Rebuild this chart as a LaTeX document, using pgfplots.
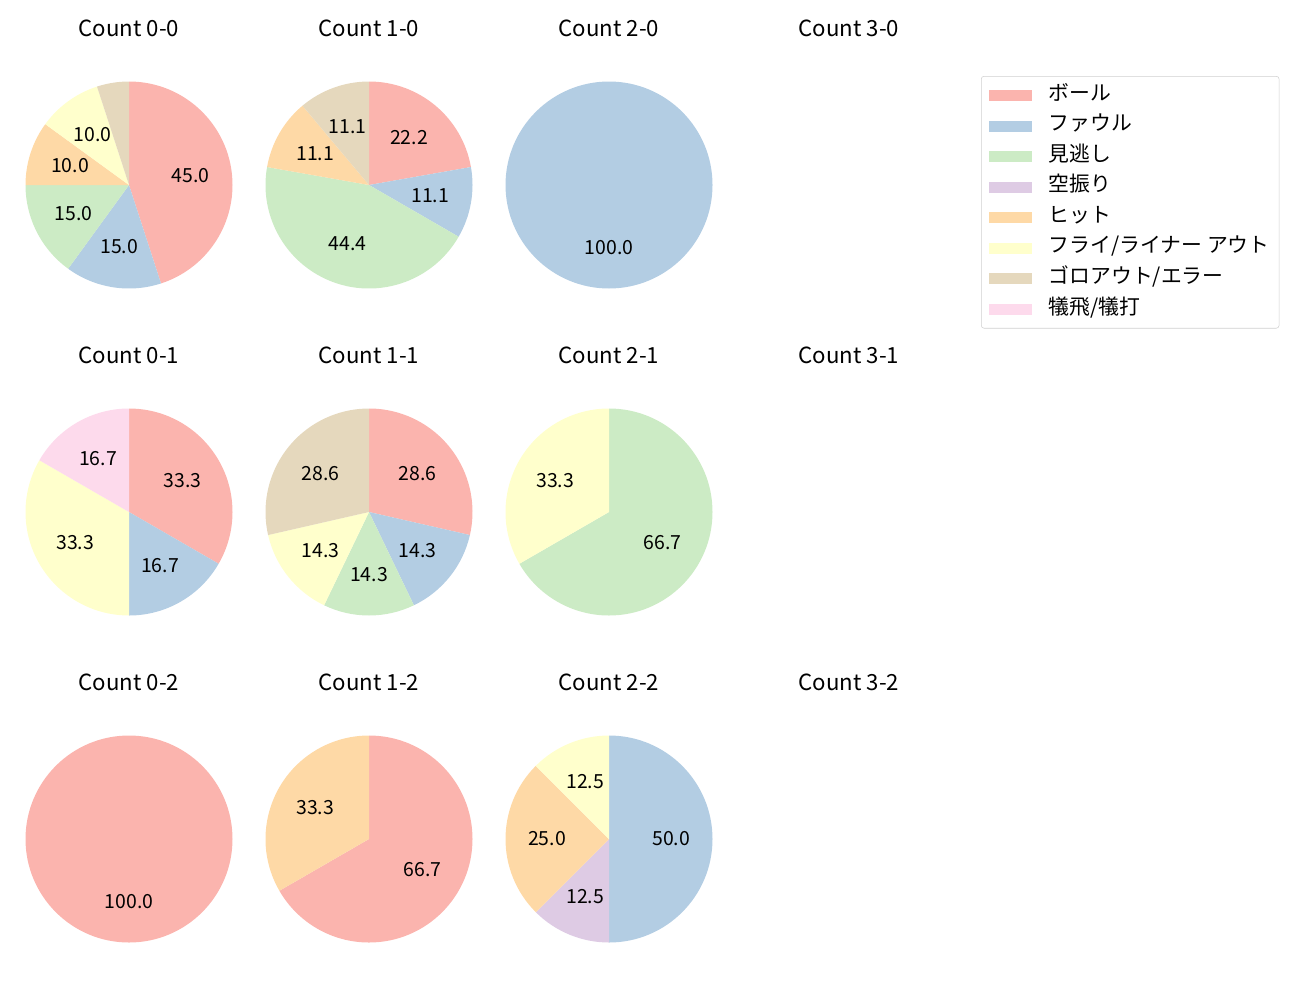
\documentclass[border=0pt]{standalone}
\usepackage{fontspec}
\setmainfont{Noto Sans CJK JP}
\usepackage{pgfplots}
\pgfplotsset{compat=1.18}

% Pastel1
\definecolor{c1}{HTML}{FBB4AE}
\definecolor{c2}{HTML}{B3CDE3}
\definecolor{c3}{HTML}{CCEBC5}
\definecolor{c4}{HTML}{DECBE4}
\definecolor{c5}{HTML}{FED9A6}
\definecolor{c6}{HTML}{FFFFCC}
\definecolor{c7}{HTML}{E5D8BD}
\definecolor{c8}{HTML}{FDDAEC}

\newcommand\R{74.52pt}
\newcommand\lblfont{\fontsize{14}{16}\selectfont}
\newcommand\ttlfont{\fontsize{16}{19}\selectfont}
\pgfplotsset{pie/.style={hide axis, scale only axis, width=149.04pt, height=149.04pt,
  xmin=-1, xmax=1, ymin=-1, ymax=1, clip=false, anchor=center}}

% #1,#2 centre (px from top left), #3 title, #4 total count, #5 list count/colour
\newcommand{\pie}[5]{%
\begin{axis}[pie, at={({#1*0.72pt},{-#2*0.72pt})}]
\pgfplotsextra{%
  \gdef\angA{90}%
  \foreach \v/\c in {#5}{%
    \pgfmathsetmacro\angB{\angA-360*\v/#4}%
    \pgfmathsetmacro\angM{(\angA+\angB)/2}%
    \pgfmathsetmacro\pct{100*\v/#4}%
    \fill[\c] (axis cs:0,0) -- ++(\angA:\R) arc[start angle=\angA, end angle=\angB, radius=\R] -- cycle;
    \ifdim\pct pt>6pt
      \node[font=\lblfont] at (axis cs:{0.6*cos(\angM)},{0.6*sin(\angM)})
        {\pgfmathprintnumber[fixed,fixed zerofill,precision=1,assume math mode=true]{\pct}};
    \fi
    \global\let\angA\angB
  }%
  \node[font=\ttlfont] at (axis cs:0,1.517) {#3};
}
\end{axis}}

\newcommand{\emptypie}[3]{%
\begin{axis}[pie, at={({#1*0.72pt},{-#2*0.72pt})}]
\pgfplotsextra{\node[font=\ttlfont] at (axis cs:0,1.517) {#3};}
\end{axis}}

\newcommand\legtxt[1]{\makebox[160pt][l]{#1}}

\begin{document}
\begin{tikzpicture}
\path (0pt,0pt) rectangle (936pt,-720pt);

\pie{129}{185}{Count 0-0}{20}{9/c1, 3/c2, 3/c3, 2/c5, 2/c6, 1/c7}
\pie{369}{185}{Count 1-0}{9}{2/c1, 1/c2, 4/c3, 1/c5, 1/c7}
\pie{609}{185}{Count 2-0}{1}{1/c2}
\emptypie{849}{185}{Count 3-0}

\pie{129}{512}{Count 0-1}{6}{2/c1, 1/c2, 2/c6, 1/c8}
\pie{369}{512}{Count 1-1}{7}{2/c1, 1/c2, 1/c3, 1/c6, 2/c7}
\pie{609}{512}{Count 2-1}{3}{2/c3, 1/c6}
\emptypie{849}{512}{Count 3-1}

\pie{129}{839}{Count 0-2}{1}{1/c1}
\pie{369}{839}{Count 1-2}{3}{2/c1, 1/c5}
\pie{609}{839}{Count 2-2}{8}{4/c2, 1/c4, 2/c5, 1/c6}
\emptypie{849}{839}{Count 3-2}

% legend
\begin{axis}[hide axis, scale only axis, width=1pt, height=1pt, xmin=0, xmax=1, ymin=0, ymax=1,
  at={({981*0.72pt},{-76*0.72pt})}, anchor=north west,
  legend style={at={(0,1)}, anchor=north west, draw=black!18, rounded corners=2pt,
    font=\fontsize{15}{18}\selectfont, inner xsep=5.8pt, inner ysep=6.2pt,
    nodes={inner sep=0pt, text height=11pt, text depth=4pt},
    row sep=7pt, /tikz/every odd column/.append style={column sep=12.2pt}},
  legend cell align=left,
  legend image code/.code={\fill[#1, sharp corners] (0pt,-3.6pt) rectangle (30.2pt,3.6pt);}]
\addlegendimage{c1}\addlegendentry{\legtxt{ボール}}
\addlegendimage{c2}\addlegendentry{\legtxt{ファウル}}
\addlegendimage{c3}\addlegendentry{\legtxt{見逃し}}
\addlegendimage{c4}\addlegendentry{\legtxt{空振り}}
\addlegendimage{c5}\addlegendentry{\legtxt{ヒット}}
\addlegendimage{c6}\addlegendentry{\legtxt{フライ/ライナー アウト}}
\addlegendimage{c7}\addlegendentry{\legtxt{ゴロアウト/エラー}}
\addlegendimage{c8}\addlegendentry{\legtxt{犠飛/犠打}}
\end{axis}
\end{tikzpicture}
\end{document}
